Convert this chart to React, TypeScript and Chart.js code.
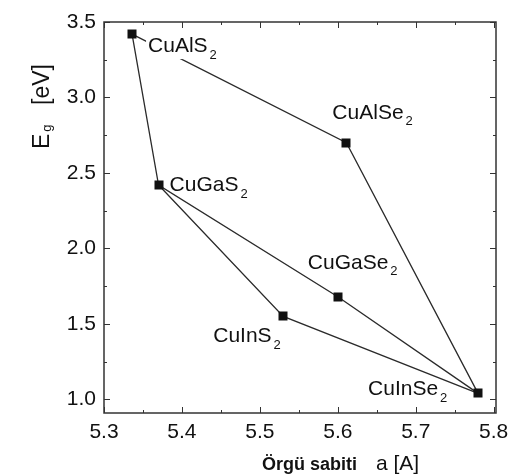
import React, { useEffect, useRef } from "react";
import { Chart, registerables } from "chart.js";

Chart.register(...registerables);

// ---- data ----
const compounds = ["CuAlS2", "CuAlSe2", "CuGaS2", "CuGaSe2", "CuInS2", "CuInSe2"];
const latticeA = [5.336, 5.611, 5.370, 5.600, 5.530, 5.780];
const bandGap = [3.42, 2.70, 2.42, 1.68, 1.55, 1.04];
const tieLines = [
  ["CuAlS2", "CuAlSe2", "CuInSe2"],
  ["CuAlS2", "CuGaS2", "CuGaSe2", "CuInSe2"],
  ["CuGaS2", "CuInS2", "CuInSe2"],
];
const xTickLabels = ["5.3", "5.4", "5.5", "5.6", "5.7", "5.8"];
const yTickLabels = ["1.0", "1.5", "2.0", "2.5", "3.0", "3.5"];

// ---- label placement (pixel offsets from marker) ----
const labelLayout: [number, number, boolean][] = [
  [16, 12, true],
  [-14, -30, false],
  [11, 0, false],
  [-30, -34, false],
  [-70, 20, false],
  [-110, -4, false],
];

const FONT = "'Liberation Sans', Arial, Helvetica, sans-serif";
const INK = "#111111";

const decorPlugin = {
  id: "decor",
  afterDatasetsDraw(chart: any) {
    const { ctx, chartArea, scales } = chart;
    const xs = scales.x;
    const ys = scales.y;
    ctx.save();
    // labels
    compounds.forEach((name, i) => {
      const px = xs.getPixelForValue(latticeA[i]);
      const py = ys.getPixelForValue(bandGap[i]);
      const [dx, dy, mask] = labelLayout[i];
      const base = name.slice(0, -1);
      const sub = name.slice(-1);
      ctx.font = `21px ${FONT}`;
      const w = ctx.measureText(base).width;
      ctx.font = `13px ${FONT}`;
      const ws = ctx.measureText(sub).width;
      const lx = px + dx;
      const ly = py + dy;
      if (mask) {
        ctx.fillStyle = "#ffffff";
        ctx.fillRect(lx - 2, ly - 12, w + ws + 6, 25);
      }
      ctx.fillStyle = INK;
      ctx.textAlign = "left";
      ctx.textBaseline = "middle";
      ctx.font = `21px ${FONT}`;
      ctx.fillText(base, lx, ly);
      ctx.font = `13px ${FONT}`;
      ctx.fillText(sub, lx + w + 2, ly + 9);
    });
    // markers on top
    compounds.forEach((_, i) => {
      const px = xs.getPixelForValue(latticeA[i]);
      const py = ys.getPixelForValue(bandGap[i]);
      ctx.fillStyle = "#111";
      ctx.fillRect(Math.round(px) - 4.5, Math.round(py) - 4.5, 9, 9);
    });
    // frame
    ctx.strokeStyle = "#333";
    ctx.lineWidth = 1.5;
    ctx.strokeRect(chartArea.left, chartArea.top, chartArea.right - chartArea.left, chartArea.bottom - chartArea.top);
    ctx.lineWidth = 1;
    // x ticks (inward, top & bottom)
    for (let v = 5.3; v <= 5.8001; v += 0.05) {
      const major = Math.abs(Math.round(v * 10) - v * 10) < 1e-6;
      const len = major ? 6 : 3;
      const p = Math.round(xs.getPixelForValue(v)) + 0.5;
      ctx.beginPath();
      ctx.moveTo(p, chartArea.bottom);
      ctx.lineTo(p, chartArea.bottom - len);
      ctx.moveTo(p, chartArea.top);
      ctx.lineTo(p, chartArea.top + len);
      ctx.stroke();
    }
    for (let v = 1.0; v <= 3.5001; v += 0.25) {
      const major = Math.abs(Math.round(v * 2) - v * 2) < 1e-6;
      const len = major ? 6 : 3;
      const p = Math.round(ys.getPixelForValue(v)) + 0.5;
      ctx.beginPath();
      ctx.moveTo(chartArea.left, p);
      ctx.lineTo(chartArea.left + len, p);
      ctx.moveTo(chartArea.right, p);
      ctx.lineTo(chartArea.right - len, p);
      ctx.stroke();
    }
    // y title (reads bottom to top)
    ctx.fillStyle = INK;
    ctx.save();
    ctx.translate(43, 149);
    ctx.rotate(-Math.PI / 2);
    ctx.textBaseline = "middle";
    ctx.textAlign = "left";
    ctx.font = `23px ${FONT}`;
    ctx.fillText("E", 0, 0);
    const wE = ctx.measureText("E").width;
    ctx.font = `13px ${FONT}`;
    ctx.fillText("g", wE + 2, 4);
    ctx.font = `23px ${FONT}`;
    ctx.fillText("[eV]", 44, 0);
    ctx.restore();
    // x title
    ctx.textBaseline = "middle";
    ctx.textAlign = "left";
    ctx.font = `bold 18px ${FONT}`;
    ctx.fillText("Örgü sabiti", 262, 465);
    ctx.font = `21px ${FONT}`;
    ctx.fillText("a [A]", 376, 464);
    ctx.restore();
  },
};

export default function App() {
  const ref = useRef<HTMLCanvasElement | null>(null);
  useEffect(() => {
    document.body.style.margin = "0";
    document.body.style.background = "#ffffff";
    const idx = (n: string) => compounds.indexOf(n);
    const lineSets = tieLines.map((path) => ({
      data: path.map((n) => ({ x: latticeA[idx(n)], y: bandGap[idx(n)] })),
      showLine: true,
      borderColor: "#2a2a2a",
      borderWidth: 1.3,
      pointRadius: 0,
      fill: false,
    }));
    const chart = new Chart(ref.current as HTMLCanvasElement, {
      type: "scatter",
      data: { datasets: lineSets as any },
      options: {
        animation: false,
        responsive: false,
        events: [],
        layout: { padding: { top: 22, right: 13, left: 0, bottom: 0 } },
        plugins: { legend: { display: false }, tooltip: { enabled: false } },
        scales: {
          x: {
            type: "linear",
            min: 5.3,
            max: 5.803,
            grid: { display: false, drawTicks: false },
            border: { display: false },
            ticks: {
              stepSize: 0.1,
              includeBounds: false,
              padding: 7,
              color: INK,
              font: { family: FONT, size: 21 },
              callback: (v: any) => {
                const s = Number(v).toFixed(1);
                return xTickLabels.includes(s) ? s : "";
              },
            },
            afterFit: (s: any) => {
              s.height = 63;
              s.paddingLeft = 0;
              s.paddingRight = 0;
            },
          },
          y: {
            type: "linear",
            min: 0.91,
            max: 3.5,
            grid: { display: false, drawTicks: false },
            border: { display: false },
            ticks: {
              stepSize: 0.5,
              includeBounds: false,
              padding: 8,
              color: INK,
              font: { family: FONT, size: 21 },
              callback: (v: any) => {
                const s = Number(v).toFixed(1);
                return yTickLabels.includes(s) ? s : "";
              },
            },
            afterFit: (s: any) => {
              s.width = 104;
              s.paddingTop = 0;
              s.paddingBottom = 0;
            },
          },
        },
      },
      plugins: [decorPlugin],
    });
    return () => chart.destroy();
  }, []);
  return (
    <div style={{ width: 509, height: 476, background: "#fff" }}>
      <canvas ref={ref} width={509} height={476} style={{ display: "block" }} />
    </div>
  );
}
